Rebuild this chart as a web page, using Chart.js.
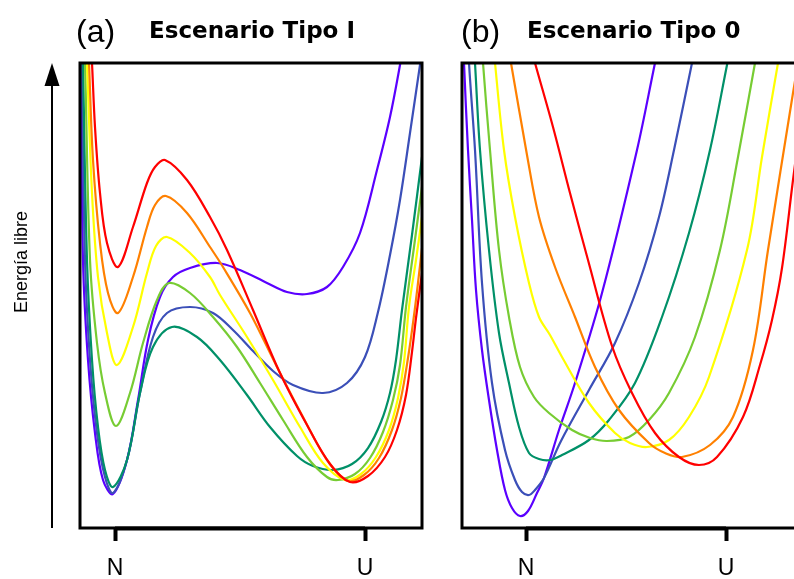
<!DOCTYPE html>
<html>
<head>
<meta charset="utf-8">
<script src="https://cdn.jsdelivr.net/npm/chart.js@4.4.1/dist/chart.umd.min.js"></script>
<style>
  html, body { margin: 0; padding: 0; background: #fff; overflow: hidden; }
  #wrapA { position: absolute; left: 0; top: 0; width: 440px; height: 579px; }
  #wrapB { position: absolute; left: 440px; top: 0; width: 394px; height: 579px; }
</style>
</head>
<body>
<div id="wrapA"><canvas id="chartA"></canvas></div>
<div id="wrapB"><canvas id="chartB"></canvas></div>
<script>
// reaction coordinate: N = 0, U = 50 ; free energy in arbitrary units (0..93 = frame)
const tickValues = [0, 50];
const tickLabels = ['N', 'U'];
const curveColors = ['#ff0000', '#ff8000', '#ffff00', '#77cc33', '#009068', '#3b4fb8', '#5a00ff'];

// (a) Escenario Tipo I
const redA = [[-5.1,102.6],[-4.6,93],[-4.0,80.2],[-3.0,67],[-1.6,57],[0.6,52.2],[3.6,60.2],[6.4,69],[8,72.2],[10,73.6],[14.4,69.6],[19,62.2],[22.4,55.6],[27.6,43.6],[33,31],[38.4,20.6],[43,12.8],[47,9.2],[50.6,10.4],[54,14.2],[56.4,19.6],[58.2,26.6],[59.4,35.2],[60.2,42],[61.4,51],[62.6,60]];
const orangeA = [[-5.6,102.6],[-5.2,93],[-4.4,73.6],[-3,57],[-1.4,47],[0.6,43],[3.6,50.2],[6.4,60.2],[8,64.6],[10.2,66.4],[14.4,63],[19,56.2],[21.6,52.2],[27,43],[32.4,32.2],[37.6,22.2],[42.4,13.6],[46.6,9.4],[49.8,10.6],[52.8,14],[55.4,19.6],[57.2,26],[58.6,34],[59.8,42.5],[60.6,49],[61.4,56],[62.6,66]];
const yellowA = [[-6,102.6],[-5.6,93],[-4.6,67],[-3.4,50.2],[-1.6,39],[0.4,32.6],[3.6,40.2],[6.4,51],[8.2,56.4],[10.4,58.2],[15,55],[19,50.2],[21,46.6],[26.4,38.2],[31.6,29.6],[37,20.2],[41.6,13],[46,9.6],[49.2,10.8],[52.2,14.2],[54.8,19.6],[56.6,26],[57.8,33.2],[58.8,44.2],[60.2,53.6],[61.4,62.2],[62.6,71.2]];
const lgreenA = [[-6.4,102.6],[-6,93],[-5,53.6],[-3.6,37],[-2,27],[0.2,20.4],[3,27],[5.6,37],[8.4,45.6],[10.8,49],[15,47],[19.6,42.2],[24.4,36.2],[29,29],[33.6,21.6],[38.4,14.2],[42.4,10.2],[44.6,9.6],[48,10.8],[51,14],[53.6,19.2],[55.6,25.6],[57,32.6],[58.2,44.2],[59.8,56.2],[61.4,68.2],[63,80.2]];
const tealA = [[-6.6,102.6],[-6.4,93],[-5.6,53.6],[-4.6,33.6],[-3.4,20.2],[-2,11.6],[-0.4,8.2],[2.4,13.6],[5,27],[7.6,36.2],[11.4,40.2],[16.4,38.2],[21,33.6],[26.4,26.6],[31,20.2],[36.4,14.4],[39.6,12.4],[43.6,11.6],[47.4,12.8],[50.6,16],[53.2,21.2],[55,27],[56.2,33.6],[57.4,43.6],[59.4,58.6],[61.4,74.2],[63,86.6]];
const blueA = [[-6.8,102.6],[-6.6,93],[-6,53.6],[-5,33.6],[-3.6,19],[-2,10.2],[-0.4,7],[2.4,13.6],[5,27],[7.6,38.2],[10.4,43],[15,44.2],[19.6,43],[23.6,39.6],[27.6,35.4],[31.6,31.4],[35.6,28.6],[41.6,27],[46.4,29],[50,34.2],[52.6,43.2],[55,54.6],[57,65.6],[59,79],[61,92.6],[61.6,96.6]];
const purpleA = [[-6.9,102.6],[-6.8,93],[-6.4,53.6],[-5.4,33.6],[-4,19],[-2.4,9.6],[-0.4,6.8],[2.4,13.6],[4.6,25.6],[6.6,37.6],[9,46.2],[11.6,50.2],[15,52],[20.4,53],[25,51.6],[30.4,49],[34.4,47.2],[38.4,46.8],[42.4,48.2],[45.6,52.2],[49,59],[52.4,71.6],[55,82.2],[57,92.6],[57.8,97.6]];

// (b) Escenario Tipo 0
const redB = [[0,99.6],[2.25,93],[6.75,80.2],[11,67],[15.5,53.6],[21.5,36.4],[26.5,27],[32.25,19],[38.25,14.2],[43.25,12.6],[47.75,14.2],[54.25,22.2],[58.5,32.6],[61.5,41.6],[64,52],[66.75,69.6],[69,83.2],[71,94.6]];
const orangeB = [[-5.25,99.6],[-3.75,93],[0.25,74.6],[3.25,62.2],[7.25,52.2],[12.25,42.2],[17.25,32.2],[23.25,23.6],[30.75,17],[34.75,15],[39,14.2],[46,16.6],[51.75,22.2],[56.75,35.6],[60.5,55.6],[66.75,87],[68,93],[69.25,99.6]];
const yellowB = [[-8.5,99.6],[-7.75,93],[-5.5,75.6],[-2.75,62.2],[0.75,49],[3.25,42.2],[6,38.6],[9,34.2],[15.75,25],[22.25,19],[26,17],[30.25,16.2],[35.75,17.6],[40.75,22.2],[45.75,30.2],[55.25,55.6],[59,74.2],[63,93],[64.5,99.6]];
const lgreenB = [[-11.25,99.6],[-10.75,93],[-9,75.6],[-6.75,55.6],[-4.25,42.2],[-1.5,32.2],[2,26.2],[5.75,23],[11.5,19.6],[16,18],[20.25,17.4],[25.75,18.2],[30.75,21.6],[35.75,27],[42.25,38.2],[48.5,55.6],[53,74.2],[57.25,93],[58.75,99.6]];
const tealB = [[-13.25,99.6],[-12.75,93],[-11.5,75.6],[-9.25,55.6],[-6.75,39],[-4.25,29],[-1.75,20.2],[0.75,15],[3.25,13.8],[6,13.6],[9,14.6],[15.75,17.6],[20.75,21.6],[27.25,29],[34,42.2],[40.75,59],[46,75.6],[50.25,92.6],[52,99.6]];
const blueB = [[-14.5,99.6],[-14.25,93],[-12.75,75.6],[-11,49],[-8.5,29],[-5.25,15.6],[-2.75,9.6],[-1,7.2],[0.75,6.6],[2.25,7.6],[4.5,10],[8.75,17.4],[15.75,27.6],[22.25,37],[28.25,49],[33.25,62.2],[37,75.6],[41.5,93],[43.25,99.6]];
const purpleB = [[-15.75,99.6],[-15.5,93],[-14.5,75.6],[-13.5,61.6],[-12.5,47.6],[-11,35.6],[-9.25,25.6],[-7.25,15.6],[-5.25,7.6],[-3.5,4],[-1.5,2.4],[0.5,3.4],[2.75,7],[4.5,10],[8.25,19.6],[12.25,29],[19,47],[27.75,75.6],[32.25,93],[34,99.6]];

function makeDatasets(curves) {
    return curves.map((c, i) => ({
        data: c.map(p => ({ x: p[0], y: p[1] })),
        borderColor: curveColors[i],
        borderWidth: 2.2,
        pointRadius: 0,
        fill: false,
        tension: 0.35,
    }));
}

// box, titles, energy arrow
function decorPlugin(o) {
    return {
        id: 'decor' + o.key,
        afterDraw(chart) {
            const { ctx, chartArea: a } = chart;
            const xs = chart.scales.x;
            ctx.save();
            ctx.strokeStyle = '#000';
            ctx.lineWidth = 3;
            ctx.strokeRect(a.left, a.top, a.right - a.left, a.bottom - a.top);
            // thicker axis segment between N and U
            ctx.lineWidth = 4;
            ctx.beginPath();
            ctx.moveTo(xs.getPixelForValue(tickValues[0]), a.bottom + 0.5);
            ctx.lineTo(xs.getPixelForValue(tickValues[1]), a.bottom + 0.5);
            ctx.stroke();

            ctx.fillStyle = '#000';
            ctx.textAlign = 'left';
            ctx.textBaseline = 'alphabetic';
            ctx.font = '32px "Liberation Sans"';
            ctx.fillText(o.tag, o.tagX, 42);
            ctx.font = 'bold 23px "DejaVu Sans"';
            ctx.fillText(o.title, o.titleX, 38);

            if (o.energy) {
                ctx.lineWidth = 2;
                ctx.beginPath();
                ctx.moveTo(52, a.bottom);
                ctx.lineTo(52, a.top + 18);
                ctx.stroke();
                ctx.beginPath();
                ctx.moveTo(52, a.top);
                ctx.lineTo(44.5, a.top + 23);
                ctx.lineTo(59.5, a.top + 23);
                ctx.closePath();
                ctx.fill();
                ctx.translate(27, 262);
                ctx.rotate(-Math.PI / 2);
                ctx.textAlign = 'center';
                ctx.font = '18px "Liberation Sans"';
                ctx.fillText('Energía libre', 0, 0);
            }
            ctx.restore();
        }
    };
}

function makeOptions(xMin, xMax, padLeft, padRight) {
    return {
        responsive: true,
        maintainAspectRatio: false,
        animation: false,
        layout: { padding: { left: padLeft, right: padRight, top: 63, bottom: 0 } },
        plugins: { legend: { display: false }, tooltip: { enabled: false } },
        scales: {
            x: {
                type: 'linear',
                min: xMin,
                max: xMax,
                afterBuildTicks: (s) => { s.ticks = tickValues.map(v => ({ value: v })); },
                afterFit: (s) => { s.height = 51; },
                ticks: {
                    autoSkip: false,
                    maxRotation: 0,
                    padding: 14,
                    color: '#000',
                    font: { family: 'Liberation Sans', size: 23 },
                    callback: (v, i) => tickLabels[i],
                },
                grid: { drawOnChartArea: false, drawTicks: true, tickLength: 13, tickWidth: 4, tickColor: '#000' },
                border: { display: false },
            },
            y: { display: false, min: 0, max: 93 }
        }
    };
}

new Chart(document.getElementById('chartA'), {
    type: 'line',
    data: { datasets: makeDatasets([redA, orangeA, yellowA, lgreenA, tealA, blueA, purpleA]) },
    options: makeOptions(-7, 61.4, 80, 18),
    plugins: [decorPlugin({ key: 'A', tag: '(a)', tagX: 76, title: 'Escenario Tipo I', titleX: 149, energy: true })]
});

new Chart(document.getElementById('chartB'), {
    type: 'line',
    data: { datasets: makeDatasets([redB, orangeB, yellowB, lgreenB, tealB, blueB, purpleB]) },
    options: makeOptions(-16, 69.5, 22, 30),
    plugins: [decorPlugin({ key: 'B', tag: '(b)', tagX: 21, title: 'Escenario Tipo 0', titleX: 87, energy: false })]
});
</script>
</body>
</html>
